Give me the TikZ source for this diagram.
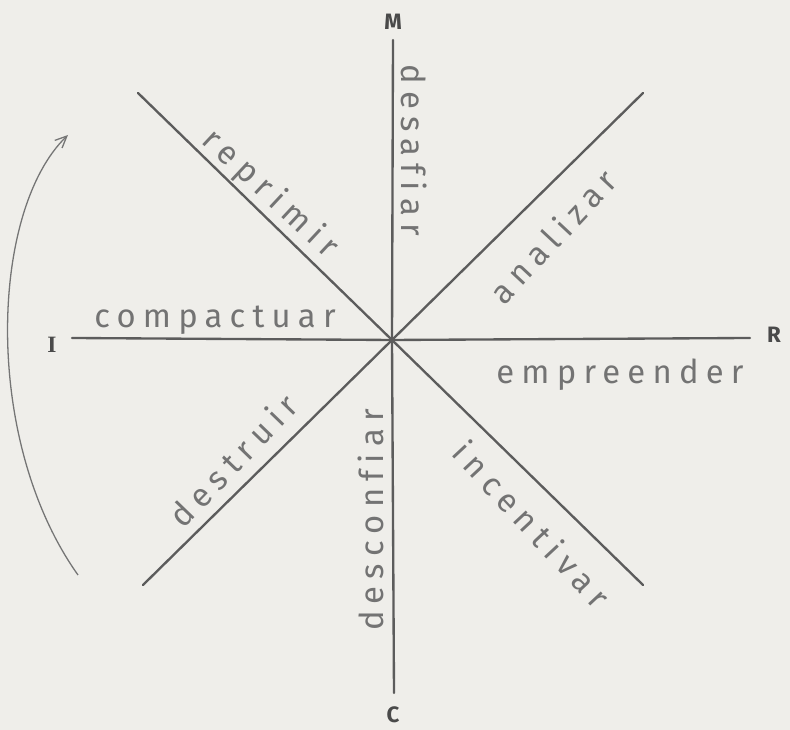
\documentclass[tikz,border=0pt]{standalone}
\usepackage{fontspec}
\setmainfont{Fira Sans}
\newfontfamily\poleserif{Liberation Serif}
\usetikzlibrary{arrows.meta}
\definecolor{paper}{HTML}{EFEEEA}
\definecolor{pencil}{HTML}{5C5C5C}
\definecolor{lead}{HTML}{737373}

\begin{document}
\begin{tikzpicture}[x=0.3mm,y=0.3mm,>=Stealth,
  axis/.style={draw=pencil,line width=2pt,line cap=round},
  word/.style={text=lead,inner sep=0pt,
    font=\fontsize{28}{32}\selectfont\addfontfeature{LetterSpace=22,Ligatures=NoCommon}},
  pole/.style={text=pencil!80!black,inner sep=0pt,
    font=\fontsize{19}{22}\selectfont\bfseries}]
  % Drawing units are the pixels of the sheet, y counted upwards.
  \useasboundingbox (0,0) rectangle (790,730);
  \fill[paper] (0,0) rectangle (790,730);

  % centre and the ends of the eight rays
  \coordinate (o) at (392,390);
  \coordinate (mEnd) at (393,690);
  \coordinate (cEnd) at (394,37);
  \coordinate (iEnd) at (72,392);
  \coordinate (rEnd) at (750,392);
  \coordinate (nwEnd) at (138,637);
  \coordinate (neEnd) at (643,637);
  \coordinate (swEnd) at (143,145);
  \coordinate (seEnd) at (643,145);

  \draw[axis] (o) -- (mEnd);
  \draw[axis] (o) -- (cEnd);
  \draw[axis] (o) -- (iEnd);
  \draw[axis] (o) -- (rEnd);
  \draw[axis] (o) -- (nwEnd);
  \draw[axis] (o) -- (neEnd);
  \draw[axis] (o) -- (swEnd);
  \draw[axis] (o) -- (seEnd);

  \node[pole] (m) at (393,708) {M};
  \node[pole] (c) at (393,15) {C};
  \node[pole,font=\fontsize{20}{22}\selectfont\poleserif\bfseries] (i) at (52,385) {I};
  \node[pole] (r) at (774,395) {R};

  \node[word,rotate=-90] (desafiar) at (414,580) {desafiar};
  \node[word,rotate=90] (desconfiar) at (371,210) {desconfiar};
  \node[word,rotate=-43] (reprimir) at (270,536) {reprimir};
  \node[word] (compactuar) at (215,410) {compactuar};
  \node[word,rotate=47] (analizar) at (553,494) {analizar};
  \node[word] (empreender) at (620,355) {empreender};
  \node[word,rotate=-47] (incentivar) at (532,206) {incentivar};
  \node[word,rotate=46] (destruir) at (233,270) {destruir};

  % the turning arrow on the left
  \coordinate (turnStart) at (78,155);
  \coordinate (turnEnd) at (68,595);
  \draw[pencil!85,line width=1.1pt,-{Straight Barb[length=10pt,width=9pt]}]
    (turnStart) .. controls (-18,290) and (-10,520) .. (turnEnd);
\end{tikzpicture}
\end{document}
